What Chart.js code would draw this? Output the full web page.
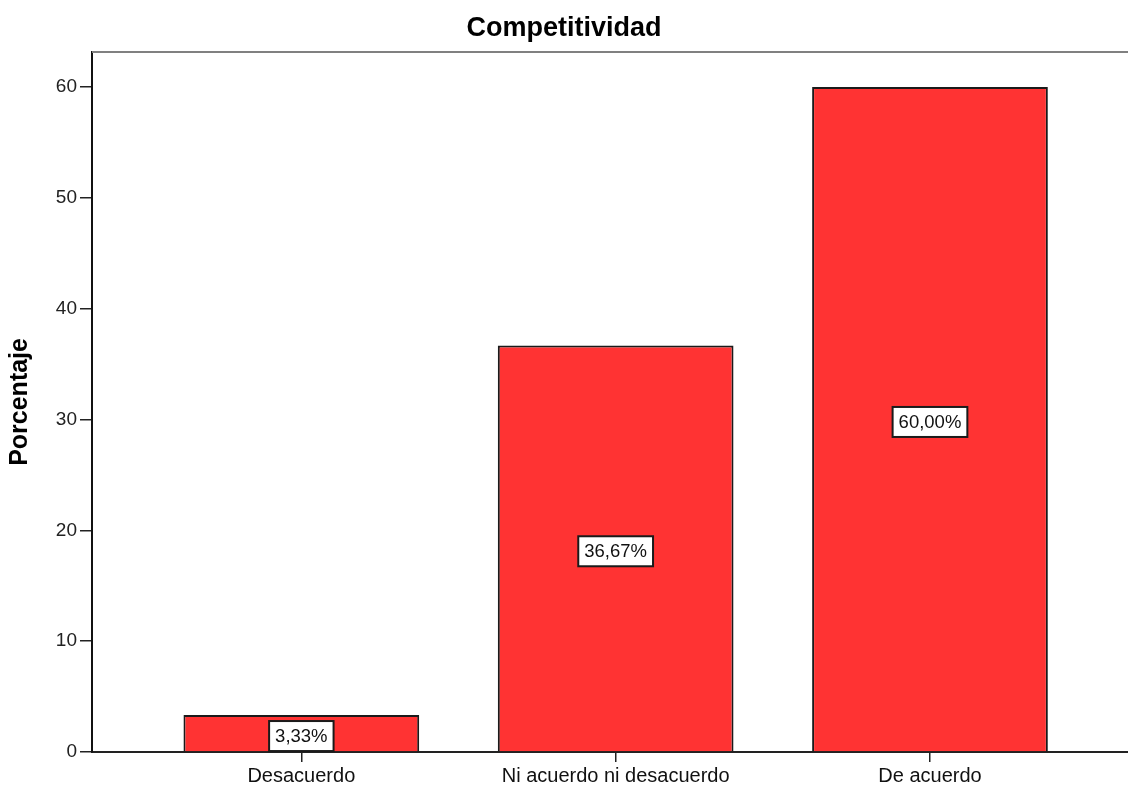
<!DOCTYPE html>
<html>
<head>
<meta charset="utf-8">
<script src="https://cdn.jsdelivr.net/npm/chart.js@4"></script>
<style>
  html, body { margin: 0; padding: 0; background: #fff; }
  #wrap { width: 1128px; height: 785px; overflow: hidden; }
</style>
</head>
<body>
<div id="wrap"><canvas id="c" width="1128" height="785"></canvas></div>
<script>
// ---- data ----
const chartTitle = 'Competitividad';
const yAxisTitle = 'Porcentaje';
const categories = ['Desacuerdo', 'Ni acuerdo ni desacuerdo', 'De acuerdo'];
const percentages = [3.33, 36.67, 60.00];
const yTickValues = [0, 10, 20, 30, 40, 50, 60];

const FONT = '"Liberation Sans", Arial, Helvetica, sans-serif';
const fmt = v => v.toFixed(2).replace('.', ',') + '%';

const points = percentages.map((v, i) => ({ x: i + 1, y: v }));

const frameTop = {
  id: 'frameTop',
  afterDraw(chart) {
    const { ctx, chartArea } = chart;
    ctx.save();
    ctx.strokeStyle = '#808080';
    ctx.lineWidth = 2;
    ctx.beginPath();
    ctx.moveTo(chartArea.left, chartArea.top);
    ctx.lineTo(chartArea.right, chartArea.top);
    ctx.stroke();
    ctx.restore();
  }
};

const valueBoxes = {
  id: 'valueBoxes',
  afterDatasetsDraw(chart) {
    const { ctx } = chart;
    const yScale = chart.scales.y;
    const meta = chart.getDatasetMeta(0);
    ctx.save();
    ctx.font = '18.5px ' + FONT;
    ctx.textAlign = 'center';
    ctx.textBaseline = 'middle';
    meta.data.forEach((bar, i) => {
      const v = percentages[i];
      const txt = fmt(v);
      const cx = bar.x;
      const cy = yScale.getPixelForValue(v / 2) + 2.5;
      const w = ctx.measureText(txt).width + 12;
      const h = 30;
      ctx.fillStyle = '#ffffff';
      ctx.fillRect(cx - w / 2, cy - h / 2, w, h);
      ctx.strokeStyle = '#1a1a1a';
      ctx.lineWidth = 2;
      ctx.strokeRect(cx - w / 2, cy - h / 2, w, h);
      ctx.fillStyle = '#111';
      ctx.fillText(txt, cx, cy + 1);
    });
    ctx.restore();
  }
};

new Chart(document.getElementById('c'), {
  type: 'bar',
  data: {
    datasets: [{
      data: points,
      backgroundColor: '#FF3333',
      borderColor: '#1a1a1a',
      borderWidth: 2,
      categoryPercentage: 1,
      barPercentage: 0.75
    }]
  },
  options: {
    responsive: false,
    devicePixelRatio: 1,
    animation: false,
    layout: { padding: 0 },
    plugins: {
      legend: { display: false },
      tooltip: { enabled: false },
      title: {
        display: true,
        text: chartTitle,
        color: '#000',
        font: { family: FONT, size: 27, weight: 'bold' },
        padding: { top: 12, bottom: 7.5 }
      }
    },
    scales: {
      x: {
        type: 'linear',
        offset: false,
        min: 0.334,
        max: 3.63,
        afterBuildTicks: s => { s.ticks = categories.map((c, i) => ({ value: i + 1 })); },
        afterFit: s => { s.height = 33; s.paddingLeft = 0; s.paddingRight = 0; },
        ticks: {
          callback: v => categories[v - 1],
          color: '#111',
          font: { family: FONT, size: 20 },
          padding: 2,
          maxRotation: 0,
          autoSkip: false
        },
        grid: { offset: false, drawOnChartArea: false, drawTicks: true, tickLength: 10, color: '#222', lineWidth: 1.5 },
        border: { display: true, color: '#222', width: 2 }
      },
      y: {
        min: 0,
        max: 63.16,
        afterBuildTicks: s => { s.ticks = yTickValues.map(v => ({ value: v })); },
        afterFit: s => { s.width = 92; },
        ticks: {
          color: '#222',
          font: { family: FONT, size: 19 },
          padding: 3
        },
        grid: { drawOnChartArea: false, drawTicks: true, tickLength: 12, color: '#222', lineWidth: 1.5 },
        border: { display: true, color: '#111', width: 2 },
        title: {
          display: true,
          text: yAxisTitle,
          color: '#000',
          font: { family: FONT, size: 25, weight: 'bold' },
          padding: { top: 5.5, bottom: 0 }
        }
      }
    }
  },
  plugins: [frameTop, valueBoxes]
});
</script>
</body>
</html>
